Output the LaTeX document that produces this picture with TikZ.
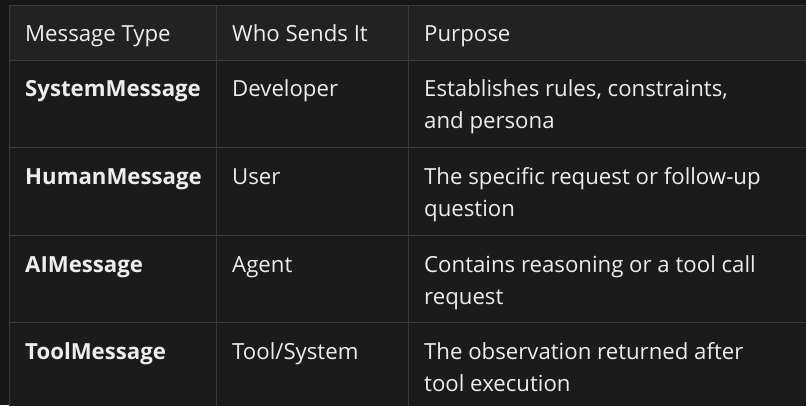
\documentclass[tikz,border=0pt]{standalone}
\usepackage{fontspec}
\setmainfont{Open Sans}
\definecolor{outerbg}{HTML}{171717}
\definecolor{headbg}{HTML}{222222}
\definecolor{bodybg}{HTML}{1B1B1B}
\definecolor{rule}{HTML}{3A3A3A}
\definecolor{txt}{HTML}{EDEDED}
\begin{document}
\begin{tikzpicture}[x=1pt,y=-1pt,
  cell/.style={anchor=base west,text=txt,font=\fontsize{22.2}{23}\selectfont,inner sep=0pt},
  bcell/.style={cell,font=\fontsize{22.2}{23}\selectfont\bfseries}]
\fill[outerbg] (0,0) rectangle (806,405);
\useasboundingbox (0,0) rectangle (806,405);
\fill[bodybg] (9,5) rectangle (810,410);
\fill[headbg] (9,5) rectangle (810,60);
\draw[rule,line width=1pt] (9,410) -- (9,5) -- (810,5);
\foreach \y in {60,147,235,322} \draw[rule,line width=1pt] (9,\y) -- (810,\y);
\foreach \x in {216,408} \draw[rule,line width=1pt] (\x,5) -- (\x,410);
\node[cell] (h1) at (25,41) {Message Type};
\node[cell] (h2) at (232,41) {Who Sends It};
\node[cell] (h3) at (424,41) {Purpose};
\node[bcell] (a1) at (25,96) {SystemMessage};
\node[cell] (b1) at (232,96) {Developer};
\node[cell] (c1) at (424,96) {Establishes rules, constraints,};
\node[cell] (c1b) at (424,128) {and persona};
\node[bcell] (a2) at (25,184) {HumanMessage};
\node[cell] (b2) at (232,184) {User};
\node[cell] (c2) at (424,184) {The specific request or follow-up};
\node[cell] (c2b) at (424,216) {question};
\node[bcell] (a3) at (25,272) {AIMessage};
\node[cell] (b3) at (232,272) {Agent};
\node[cell] (c3) at (424,272) {Contains reasoning or a tool call};
\node[cell] (c3b) at (424,304) {request};
\node[bcell] (a4) at (25,359) {ToolMessage};
\node[cell] (b4) at (232,359) {Tool/System};
\node[cell] (c4) at (424,359) {The observation returned after};
\node[cell] (c4b) at (424,391) {tool execution};
\end{tikzpicture}
\end{document}
